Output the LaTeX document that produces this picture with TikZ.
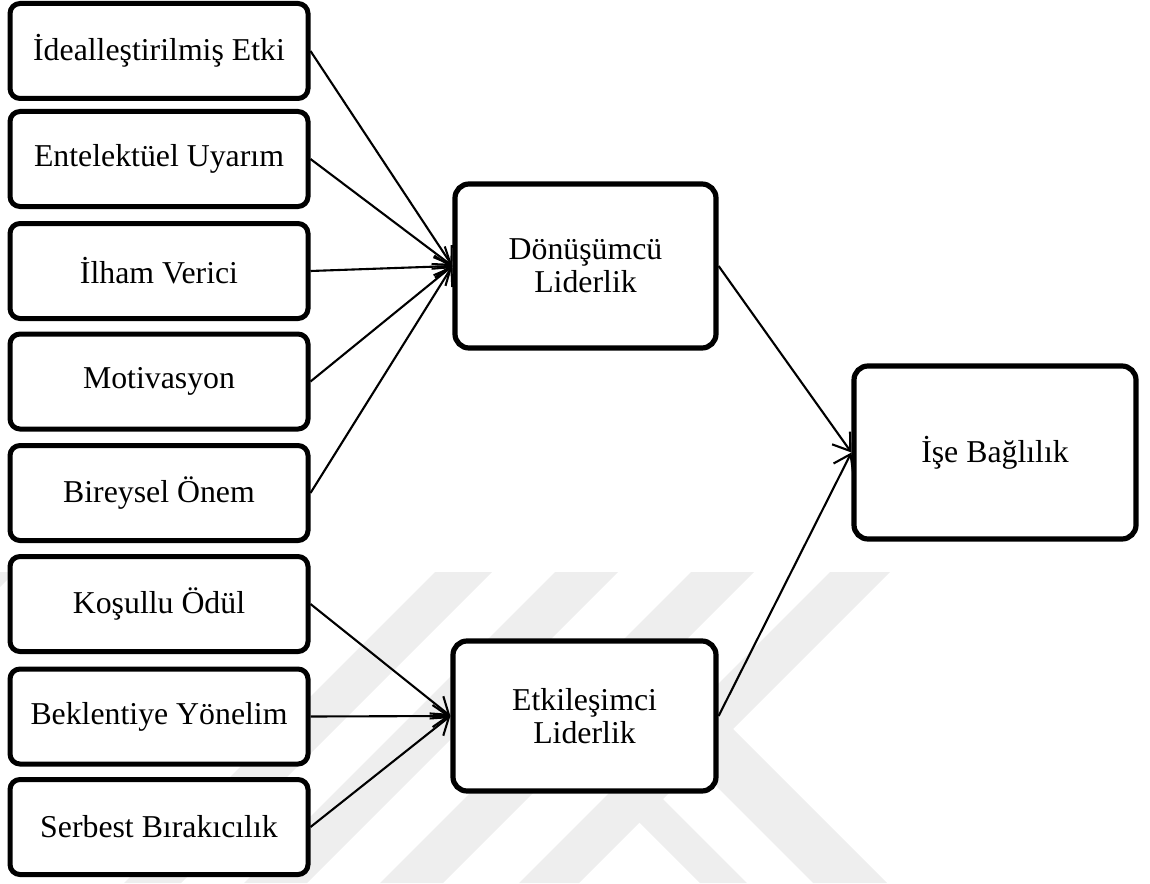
\documentclass[tikz,border=0pt]{standalone}
\usepackage{fontspec}
\setmainfont{Liberation Serif}
\usetikzlibrary{arrows.meta}
\definecolor{wmgray}{RGB}{238,238,238}
\begin{document}
\begin{tikzpicture}[x=0.5pt,y=-0.5pt,
  every node/.style={font=\fontsize{15.9pt}{16.6pt}\selectfont},
  lbox/.style={draw, line width=2.5pt, rounded corners=5pt, fill=white,
    minimum width=149pt, minimum height=47.5pt, inner sep=0pt},
  bigbox/.style={draw, line width=2.6pt, rounded corners=7pt, fill=white,
    align=center, inner sep=0pt},
  link/.style={line width=1.05pt, -{Straight Barb[length=8pt,width=11pt]}},
]
\useasboundingbox (0,0) rectangle (1150,883);

% faint background emblem
\begin{scope}
  \clip (0,0) rectangle (1150,883);
  \fill[wmgray] (-40,572) -- (15,572) -- (-296,883) -- (-351,883) -- cycle;
  \fill[wmgray] (435,572) -- (492,572) -- (181,883) -- (124,883) -- cycle;
  \fill[wmgray] (555,572) -- (618,572) -- (307,883) -- (244,883) -- cycle;
  \fill[wmgray] (691,572) -- (754,572) -- (443,883) -- (380,883) -- cycle;
  \fill[wmgray] (830,572) -- (890,572) -- (579,883) -- (519,883) -- cycle;
  \fill[wmgray] (666,736) -- (733,729) -- (887,883) -- (813,883) -- cycle;
  \fill[wmgray] (609.5,792.5) -- (663,799) -- (747,883) -- (700,883) -- cycle;
\end{scope}

% dimensions of transformational leadership
\node[lbox] (b1) at (159,51)    {İdealleştirilmiş Etki};
\node[lbox] (b2) at (159,159)   {Entelektüel Uyarım};
\node[lbox] (b3) at (159,271)   {İlham Verici};
\node[lbox] (b4) at (159,381.5) {Motivasyon};
\node[lbox] (b5) at (159,493)   {Bireysel Önem};
% dimensions of transactional leadership
\node[lbox] (b6) at (159,604)   {Koşullu Ödül};
\node[lbox] (b7) at (159,716.5) {Beklentiye Yönelim};
\node[lbox] (b8) at (159,827)   {Serbest Bırakıcılık};

% leadership styles and outcome
\node[bigbox, minimum width=130.5pt, minimum height=82pt] (don) at (585.5,266) {Dönüşümcü\\Liderlik};
\node[bigbox, minimum width=131.5pt, minimum height=75pt] (etk) at (584.5,716) {Etkileşimci\\Liderlik};
\node[bigbox, minimum width=141pt, minimum height=86.5pt] (ise) at (995,452.5) {İşe Bağlılık};

\foreach \n in {b1,b2,b3,b4,b5} \draw[link] (\n.east) -- (don.west);
\foreach \n in {b6,b7,b8} \draw[link] (\n.east) -- (etk.west);
\draw[link] (don.east) -- (ise.west);
\draw[link] (etk.east) -- (ise.west);
\end{tikzpicture}
\end{document}
